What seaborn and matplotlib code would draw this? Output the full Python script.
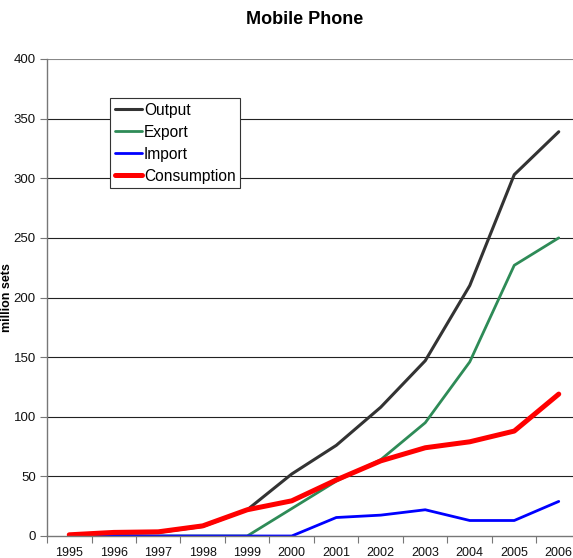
import matplotlib
matplotlib.use("Agg")
import matplotlib.pyplot as plt
from matplotlib.ticker import FixedLocator
import seaborn as sns
import pandas as pd
import numpy as np

years = ["1995", "1996", "1997", "1998", "1999", "2000", "2001", "2002", "2003", "2004", "2005", "2006"]
output = [0, 2, 3, 8, 22, 52, 76, 108, 147, 210, 303, 339]
export = [0, 0, 0, 0, 0, 23, 46, 64, 95, 146, 227, 250]
imports = [0, 0, 0, 0, 0, 0, 15.5, 17.5, 22, 13, 13, 29]
consumption = [1, 3, 3.5, 8.5, 22, 29.5, 47, 63, 74, 79, 88, 119]

series_names = ["Output", "Export", "Import", "Consumption"]
colors = ["#333333", "#2E8B57", "#0000FF", "#FF0000"]
widths = [2.2, 2.0, 2.0, 3.6]

sns.set_theme(style="white")
plt.rcParams["font.family"] = ["Liberation Sans", "DejaVu Sans"]
plt.rcParams["text.color"] = "black"

df = pd.DataFrame({
    "Year": years * 4,
    "idx": list(range(len(years))) * 4,
    "value": output + export + imports + consumption,
    "Series": sum([[n] * len(years) for n in series_names], []),
})

W, H = 573, 558
fig = plt.figure(figsize=(W / 100, H / 100), dpi=100)
left, right, top, bottom = 47, 581, 59, 536
ax = fig.add_axes([left / W, 1 - bottom / H, (right - left) / W, (bottom - top) / H])

for name, c, lw in zip(series_names, colors, widths):
    sub = df[df["Series"] == name]
    sns.lineplot(data=sub, x="idx", y="value", ax=ax, color=c, linewidth=lw,
                 label=name, legend=False)

ax.set_xlim(-0.5, 11.5)
ax.set_ylim(0, 400)
ax.set_yticks(np.arange(0, 401, 50))
ax.tick_params(axis="y", labelsize=9.5, length=5, width=0.8, color="#777777",
               left=True, pad=3, labelcolor="#111111")
ax.set_xticks(range(len(years)))
ax.set_xticklabels(years)
ax.xaxis.set_minor_locator(FixedLocator(np.arange(-0.5, 12, 1)))
ax.tick_params(axis="x", which="major", length=0, labelsize=9, pad=8, labelcolor="#111111")
ax.tick_params(axis="x", which="minor", length=5, width=0.8, color="#777777", bottom=True)
for y in range(50, 401, 50):
    ax.axhline(y, color="#222222" if y < 400 else "#888888", lw=0.8, zorder=0)
for s in ["top", "right"]:
    ax.spines[s].set_visible(False)
for s in ["left", "bottom"]:
    ax.spines[s].set_color("#777777")
    ax.spines[s].set_linewidth(1.0)
ax.set_xlabel("")
ax.set_ylabel("")

fig.text(305 / W, 1 - 20 / H, "Mobile Phone", ha="center", va="center",
         fontsize=13, fontweight="bold", color="black")
fig.text(7 / W, 1 - 298 / H, "million sets", ha="center", va="center",
         rotation=90, fontsize=9, fontweight="bold", color="black")

handles = [plt.Line2D([], [], color=c, lw=lw) for c, lw in zip(colors, widths)]
leg = fig.legend(handles, series_names, loc="upper left",
                 bbox_to_anchor=(110 / W, 1 - 98 / H), fontsize=11.2,
                 frameon=True, fancybox=False, framealpha=1, edgecolor="#333333",
                 handlelength=1.75, handletextpad=0.12, borderpad=0.3,
                 labelspacing=0.45, borderaxespad=0)
leg.get_frame().set_linewidth(0.8)
for t in leg.get_texts():
    t.set_color("black")

fig.savefig("out.png", dpi=100)
